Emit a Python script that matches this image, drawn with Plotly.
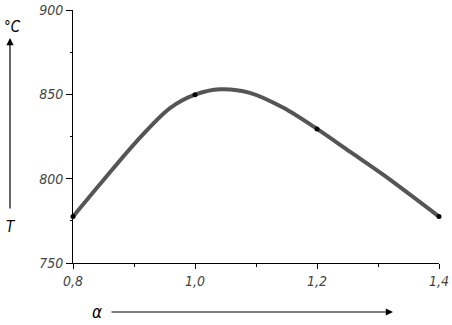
import plotly.graph_objects as go

# Curve
curve_alpha = [0.80, 0.85, 0.904, 0.959, 1.00, 1.041, 1.09, 1.145, 1.20, 1.254, 1.309, 1.40]
curve_temp = [777.5, 799.2, 822.0, 841.8, 849.8, 853.0, 850.9, 842.0, 829.5, 816.0, 802.2, 777.5]

# Measured points
point_alpha = [0.8, 1.0, 1.2, 1.4]
point_temp = [777.5, 849.8, 829.5, 777.5]

x_tick_vals = [0.8, 1.0, 1.2, 1.4]
x_tick_text = ["0,8", "1,0", "1,2", "1,4"]
y_tick_vals = [750, 800, 850, 900]
y_tick_text = ["750", "800", "850", "900"]

W, H = 452, 325
L, R, T, B = 73, 13, 10, 62
pw, ph = W - L - R, H - T - B


def px(xp):
    return (xp - L) / pw


def py(yp):
    return (H - B - yp) / ph


font_fam = "Liberation Sans Narrow, DejaVu Sans Condensed, Arial Narrow, sans-serif"

fig = go.Figure()
fig.add_trace(go.Scatter(
    x=curve_alpha, y=curve_temp, mode="lines",
    line=dict(color="#555555", width=4, shape="spline", smoothing=0.9),
    hoverinfo="skip", cliponaxis=False,
))
fig.add_trace(go.Scatter(
    x=point_alpha, y=point_temp, mode="markers",
    marker=dict(color="black", size=5),
    cliponaxis=False,
))

axis_font = dict(family=font_fam, size=14, color="#444444", style="italic")

fig.update_xaxes(
    range=[0.8, 1.4], tickvals=x_tick_vals, ticktext=x_tick_text,
    showgrid=False, zeroline=False, showline=True, linecolor="black", linewidth=1,
    ticks="outside", ticklen=5, tickcolor="black", tickwidth=1,
    minor=dict(tickvals=[0.9, 1.1, 1.3], ticks="outside", ticklen=3, tickcolor="black"),
    tickfont=axis_font, automargin=False,
)
fig.update_yaxes(
    range=[750, 900], tickvals=y_tick_vals, ticktext=y_tick_text,
    showgrid=False, zeroline=False, showline=True, linecolor="black", linewidth=1,
    ticks="outside", ticklen=6, tickcolor="black", tickwidth=1,
    minor=dict(tickvals=[775, 825, 875], ticks="outside", ticklen=2, tickcolor="black"),
    tickfont=axis_font, automargin=False,
)

ann_font = dict(family=font_fam, size=15, color="black", style="italic")
annotations = [
    # Y axis label: degree C above, T below, vertical arrow
    dict(x=px(12), y=py(27), xref="paper", yref="paper", text="°C", showarrow=False,
         xanchor="center", yanchor="middle",
         font=dict(family=font_fam, size=15, color="black", style="italic")),
    dict(x=px(11), y=py(227), xref="paper", yref="paper", text="T", showarrow=False,
         xanchor="center", yanchor="middle", font=ann_font),
    dict(x=px(10), y=py(38), xref="paper", yref="paper", text="", showarrow=True,
         ax=0, ay=172, arrowhead=2, arrowsize=1.2, arrowwidth=1.2, arrowcolor="black"),
    # X axis label: alpha with horizontal arrow
    dict(x=px(97), y=py(312), xref="paper", yref="paper", text="α", showarrow=False,
         xanchor="center", yanchor="middle",
         font=dict(family=font_fam, size=17, color="black", style="italic")),
    dict(x=px(393), y=py(312), xref="paper", yref="paper", text="", showarrow=True,
         ax=-283, ay=0, arrowhead=2, arrowsize=1.2, arrowwidth=1.2, arrowcolor="black"),
]

fig.update_layout(
    width=W, height=H,
    margin=dict(l=L, r=R, t=T, b=B, autoexpand=False),
    paper_bgcolor="white", plot_bgcolor="white",
    showlegend=False,
    annotations=annotations,
)

fig.write_html(
    "out.html",
    config={"displayModeBar": False},
    post_script="document.body.style.margin='0';document.body.style.padding='0';"
                "document.body.style.overflow='hidden';",
)
